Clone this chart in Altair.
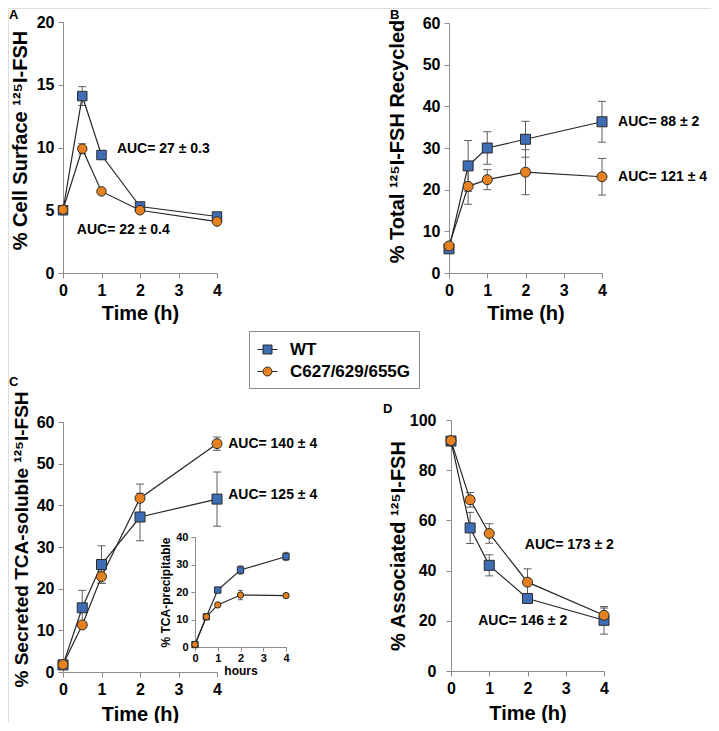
import altair as alt
import pandas as pd

# ---------------- data ----------------
TIMES = [0, 0.5, 1, 2, 4]
SERIES = ["WT", "C627/629/655G"]
X_TICKS = [0, 1, 2, 3, 4]

# A: % cell surface 125I-FSH
A_WT = [5.0, 14.1, 9.4, 5.3, 4.5]
A_WT_ERR = [0.0, 0.75, 0.0, 0.0, 0.0]
A_MUT = [5.05, 9.9, 6.5, 5.0, 4.1]
A_MUT_ERR = [0.0, 0.4, 0.0, 0.0, 0.0]

# B: % total 125I-FSH recycled
B_WT = [5.8, 25.7, 30.0, 32.1, 36.3]
B_WT_ERR = [0.0, 6.1, 3.9, 4.3, 4.9]
B_MUT = [6.5, 20.8, 22.4, 24.2, 23.1]
B_MUT_ERR = [0.0, 4.3, 2.4, 5.4, 4.4]

# C: % secreted TCA-soluble 125I-FSH
C_WT = [1.7, 15.4, 25.8, 37.2, 41.5]
C_WT_ERR = [0.0, 4.2, 4.5, 5.7, 6.5]
C_MUT = [1.8, 11.3, 22.9, 41.7, 54.8]
C_MUT_ERR = [0.0, 0.5, 1.6, 3.4, 1.6]

# C inset: % TCA-precipitable
IN_WT = [0.9, 11.0, 20.7, 28.0, 32.9]
IN_WT_ERR = [0.0, 0.5, 0.8, 1.5, 1.5]
IN_MUT = [0.9, 11.0, 15.3, 18.9, 18.7]
IN_MUT_ERR = [0.0, 0.5, 0.6, 1.7, 0.8]

# D: % associated 125I-FSH
D_WT = [91.6, 57.0, 42.1, 28.9, 20.2]
D_WT_ERR = [1.0, 6.2, 4.2, 1.5, 5.5]
D_MUT = [91.8, 68.2, 54.8, 35.4, 22.2]
D_MUT_ERR = [0.8, 2.9, 3.9, 5.3, 2.9]

# AUC annotations (text, and anchor in each panel's data units)
AUC_A = ["AUC= 27 ± 0.3", "AUC= 22 ± 0.4"]
AUC_A_POS = [(1.4, 9.9), (0.36, 3.4)]
AUC_B = ["AUC= 88 ± 2", "AUC= 121 ± 4"]
AUC_B_POS = [(4.42, 36.3), (4.42, 23.0)]
AUC_C = ["AUC= 140 ± 4", "AUC= 125 ± 4"]
AUC_C_POS = [(4.29, 54.7), (4.29, 42.5)]
AUC_D = ["AUC= 173 ± 2", "AUC= 146 ± 2"]
AUC_D_POS = [(1.93, 50.2), (0.71, 19.9)]

PANEL_LABELS = ["A", "B", "C", "D"]

# ---------------- styling ----------------
FONT = "Liberation Sans"
BLUE = "#3E6DB5"
ORANGE = "#E5821F"
EDGE = "#2b2b2b"
LINE = "#262626"
ERRC = "#5e5e5e"
AXC = "#8c8c8c"
W, H = 703, 715


def make_df(wt, wt_err, mut, mut_err):
    rows = []
    for s, vals, errs in ((SERIES[0], wt, wt_err), (SERIES[1], mut, mut_err)):
        for t, v, e in zip(TIMES, vals, errs):
            rows.append({"series": s, "t": t, "v": v, "lo": v - e, "hi": v + e, "err": e})
    return pd.DataFrame(rows)


def make_axis(orient, offset, values, title, label_size, title_size, title_pad,
              label_pad, tick=5, title_y=None):
    kw = dict(orient=orient, offset=offset, values=values, tickCount=len(values),
              title=title, grid=False,
              domainColor=AXC, domainWidth=1, tickColor=AXC, tickWidth=1, tickSize=tick,
              labelFont=FONT, labelFontSize=label_size, labelFontWeight="bold",
              labelColor="black", labelPadding=label_pad, labelFlush=False,
              labelOverlap=False, labelBound=False, titleFont=FONT,
              titleFontSize=title_size, titleFontWeight="bold", titleColor="black",
              titlePadding=title_pad)
    if title_y is not None:
        kw["titleY"] = title_y
    return alt.Axis(**kw)


def panel(df, g, auc_text=None, auc_pos=None):
    xs = alt.Scale(domain=[0, 4], range=g["xr"], nice=False, zero=False)
    ys = alt.Scale(domain=g["yd"], range=g["yr"], nice=False, zero=False)
    xax = make_axis("bottom", g["xr_off"], X_TICKS, g["xtitle"], g["ls"],
                    g["xts"], g["xtp"], g["xlp"], g["tick"])
    yax = make_axis("left", g["yr_off"], g["yvals"], g["ytitle"], g["ls"], g["yts"],
                    g["ytp"], g["ylp"], g["tick"], g.get("ty"))

    def X(field="t"):
        return alt.X(f"{field}:Q", scale=xs, axis=xax)

    def Y(field):
        return alt.Y(f"{field}:Q", scale=ys, axis=yax)

    base = alt.Chart(df)
    has_err = base.transform_filter("datum.err > 0")
    err = has_err.mark_rule(color=ERRC, strokeWidth=1).encode(
        x=X(), y=Y("lo"), y2="hi:Q")
    cap_lo = has_err.mark_tick(orient="horizontal", size=g["cap"], thickness=1,
                               color=ERRC, opacity=1).encode(x=X(), y=Y("lo"))
    cap_hi = has_err.mark_tick(orient="horizontal", size=g["cap"], thickness=1,
                               color=ERRC, opacity=1).encode(x=X(), y=Y("hi"))
    line = base.mark_line(color=LINE, strokeWidth=1.2).encode(
        x=X(), y=Y("v"), detail="series:N")
    wt = base.transform_filter(alt.datum.series == SERIES[0]).mark_point(
        shape="square", filled=True, fill=BLUE, stroke=EDGE, strokeWidth=1,
        size=g["ms"], opacity=1).encode(x=X(), y=Y("v"))
    mut = base.transform_filter(alt.datum.series == SERIES[1]).mark_point(
        shape="circle", filled=True, fill=ORANGE, stroke=EDGE, strokeWidth=1,
        size=g["ms"], opacity=1).encode(x=X(), y=Y("v"))
    layers = [err, cap_lo, cap_hi, line, wt, mut]
    if auc_text:
        adf = pd.DataFrame({"label": auc_text,
                            "x": [p[0] for p in auc_pos],
                            "y": [p[1] for p in auc_pos]})
        txt = alt.Chart(adf).mark_text(align="left", baseline="middle", font=FONT,
                                       fontSize=14, fontWeight="bold",
                                       color="black").encode(
            x=X("x"), y=Y("y"), text="label:N")
        layers.append(txt)
    return alt.layer(*layers)


common = dict(ls=16, xts=20, yts=20, tick=5, xlp=4, ylp=4, cap=8, ms=100,
              xtitle="Time (h)")

gA = dict(common, xr=[55, 209], yd=[0, 20], yr=[265, 14], xr_off=265 - H, yr_off=-55,
          yvals=[0, 5, 10, 15, 20], ytitle="% Cell Surface ¹²⁵I-FSH", ytp=6, xtp=5,
          ty=132, ms=90)
gB = dict(common, xr=[441, 594], yd=[0, 60], yr=[265, 15], xr_off=265 - H, yr_off=-441,
          yvals=[0, 10, 20, 30, 40, 50, 60], ytitle="% Total ¹²⁵I-FSH Recycled",
          ytp=15, xtp=5, ty=133)
gC = dict(common, xr=[55, 209], yd=[0, 60], yr=[664, 414], xr_off=664 - H, yr_off=-55,
          yvals=[0, 10, 20, 30, 40, 50, 60], ytitle="% Secreted TCA-soluble ¹²⁵I-FSH",
          yts=19, ytp=5, xtp=7, ty=531)
gD = dict(common, xr=[443, 596], yd=[0, 100], yr=[663, 412], xr_off=663 - H,
          yr_off=-443, yvals=[0, 20, 40, 60, 80, 100], ytitle="% Associated ¹²⁵I-FSH",
          ylp=10, ytp=1, xtp=7)
gIn = dict(ls=11, xts=12, yts=12, tick=4, xlp=1, ylp=3, cap=5, ms=40,
           xr=[187, 278], yd=[0, 40], yr=[639, 529], xr_off=639 - H, yr_off=-187,
           yvals=[0, 10, 20, 30, 40], ytitle="% TCA-precipitable", xtitle="hours",
           ytp=3, xtp=2)

pA = panel(make_df(A_WT, A_WT_ERR, A_MUT, A_MUT_ERR), gA, AUC_A, AUC_A_POS)
pB = panel(make_df(B_WT, B_WT_ERR, B_MUT, B_MUT_ERR), gB, AUC_B, AUC_B_POS)
pC = panel(make_df(C_WT, C_WT_ERR, C_MUT, C_MUT_ERR), gC, AUC_C, AUC_C_POS)
pIn = panel(make_df(IN_WT, IN_WT_ERR, IN_MUT, IN_MUT_ERR), gIn)
pD = panel(make_df(D_WT, D_WT_ERR, D_MUT, D_MUT_ERR), gD, AUC_D, AUC_D_POS)

# ---------------- legend (real Vega legend, line-through-marker symbols) ----------------
SQ_PATH = "M-1,0H-0.45M0.45,0H1M-0.45,-0.45H0.45V0.45H-0.45Z"
CI_PATH = ("M-1,0H-0.45M0.45,0H1M-0.45,0A0.45,0.45 0 1,0 0.45,0"
           "A0.45,0.45 0 1,0 -0.45,0Z")
leg = alt.Legend(title=None, orient="none", legendX=241, legendY=323, padding=8,
                 strokeColor="#8a8a8a", fillColor="white", symbolSize=400,
                 symbolStrokeWidth=1, symbolOpacity=1, labelFont=FONT, labelFontSize=17,
                 labelFontWeight="bold", labelColor="black", labelOffset=12,
                 rowPadding=3, direction="vertical")
legend_layer = alt.Chart(pd.DataFrame({"series": SERIES})).transform_filter(
    "false").mark_point(filled=True, stroke=EDGE, strokeWidth=1, opacity=1).encode(
    color=alt.Color("series:N", scale=alt.Scale(domain=SERIES, range=[BLUE, ORANGE]),
                    legend=leg),
    shape=alt.Shape("series:N", scale=alt.Scale(domain=SERIES, range=[SQ_PATH, CI_PATH]),
                    legend=leg),
)

# ---------------- panel letters ----------------
LETTER_XY = [(1, 11), (382, 11), (1, 378), (375, 405)]
letters = []
for lab, (lx, ly) in zip(PANEL_LABELS, LETTER_XY):
    letters.append(
        alt.Chart(pd.DataFrame({"label": [lab]})).mark_text(
            align="left", baseline="alphabetic", font=FONT, fontSize=13,
            fontWeight="bold", color="black").encode(
            x=alt.value(lx), y=alt.value(ly), text="label:N"))

chart = alt.layer(pA, pB, pC, pIn, pD, legend_layer, *letters).resolve_scale(
    x="independent", y="independent").properties(
    width=W, height=H, padding=0,
    autosize=alt.AutoSizeParams(type="none")).configure_view(stroke=None).configure(
    background="white")

chart.save("out.html", embed_options={"renderer": "svg", "actions": False})
